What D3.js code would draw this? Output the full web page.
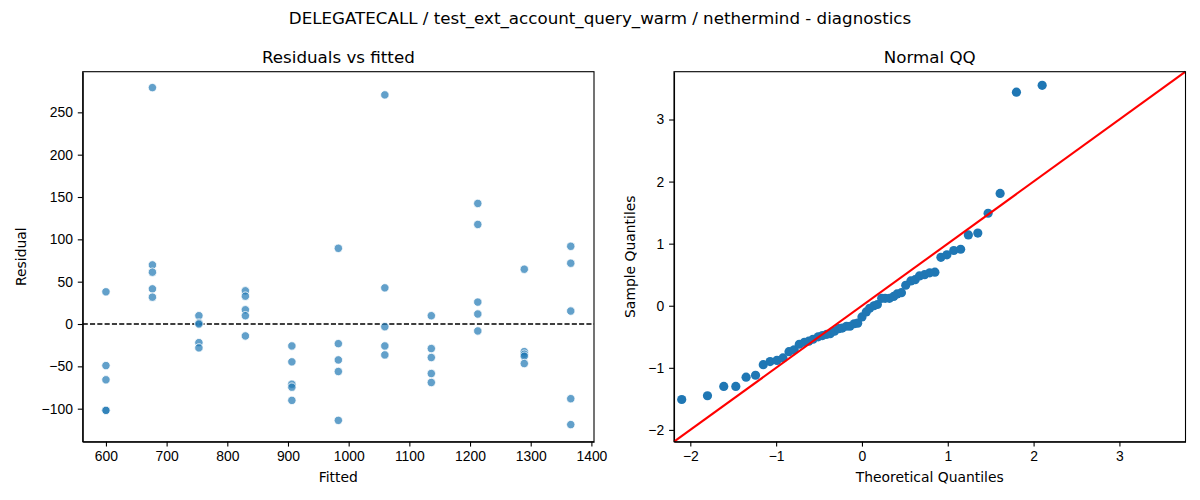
<!DOCTYPE html>
<html>
<head>
<meta charset="utf-8">
<script src="https://cdn.jsdelivr.net/npm/d3@7"></script>
<style>
  body { margin: 0; background: #fff; }
  svg { font-family: "DejaVu Sans", sans-serif; }
  .tick text { font-size: 13.9px; fill: #000; }
  .tick line, .domain { stroke: #000; stroke-width: 1.1px; }
</style>
</head>
<body>
<svg width="1200" height="500"></svg>
<script>
// fitted value of each point (11 levels, 5 runs each)
const fitted = [
  600, 600, 600, 600, 600,
  676.6, 676.6, 676.6, 676.6, 676.6,
  753.2, 753.2, 753.2, 753.2, 753.2,
  829.8, 829.8, 829.8, 829.8, 829.8,
  906.4, 906.4, 906.4, 906.4, 906.4,
  983, 983, 983, 983, 983,
  1059.6, 1059.6, 1059.6, 1059.6, 1059.6,
  1136.2, 1136.2, 1136.2, 1136.2, 1136.2,
  1212.8, 1212.8, 1212.8, 1212.8, 1212.8,
  1289.4, 1289.4, 1289.4, 1289.4, 1289.4,
  1366, 1366, 1366, 1366, 1366
];
// residual of each point
const residual = [
  38, -49.1, -65.9, -102, -102,
  279.2, 69.8, 61.2, 41.5, 31.7,
  9.8, 1.2, 0, -22, -28.2,
  39.2, 32.9, 16.8, 9.8, -14.1,
  -25.9, -44.7, -71.1, -74.6, -90.2,
  89.4, -23.2, -42.4, -56.1, -113.8,
  270.6, 42.7, -3.2, -25.9, -36.5,
  9.8, -29, -39.6, -58.5, -69.1,
  142.4, 117.6, 25.9, 11.8, -8.2,
  64.7, -32.6, -35.7, -38, -46.7,
  91.8, 71.8, 15.3, -88.2, -118.8
];
// Normal QQ points
const theoretical = [
  -2.10, -1.80, -1.61, -1.47, -1.35, -1.24, -1.15, -1.07, -0.99, -0.92,
  -0.85, -0.79, -0.73, -0.67, -0.62, -0.57, -0.51, -0.46, -0.41, -0.37,
  -0.32, -0.27, -0.23, -0.18, -0.14, -0.09, -0.05, 0,
  0.05, 0.09, 0.14, 0.18, 0.23, 0.27, 0.32, 0.37, 0.41, 0.46,
  0.51, 0.57, 0.62, 0.67, 0.73, 0.79, 0.85, 0.92, 0.99, 1.07,
  1.15, 1.24, 1.35, 1.47, 1.61, 1.80, 2.10
];
const sample = [
  -1.51, -1.45, -1.30, -1.30, -1.15, -1.12, -0.95, -0.90, -0.88, -0.84,
  -0.74, -0.71, -0.62, -0.59, -0.57, -0.54, -0.50, -0.48, -0.46, -0.45,
  -0.41, -0.37, -0.36, -0.33, -0.33, -0.29, -0.28, -0.18,
  -0.10, -0.04, 0.00, 0.02, 0.12, 0.12, 0.12, 0.15, 0.19, 0.21,
  0.33, 0.40, 0.42, 0.48, 0.50, 0.53, 0.54, 0.78, 0.82, 0.89,
  0.91, 1.14, 1.17, 1.49, 1.81, 3.44, 3.55
];
const residXTicks = [600, 700, 800, 900, 1000, 1100, 1200, 1300, 1400];
const residYTicks = [-100, -50, 0, 50, 100, 150, 200, 250];
const qqTicks = [-2, -1, 0, 1, 2, 3];

const svg = d3.select("svg");
const plotTop = 71.7, plotBottom = 441.7;
const tickLen = 4.9;
const intFmt = d3.format("d");

// suptitle
svg.append("text")
  .attr("x", 600).attr("y", 24)
  .attr("text-anchor", "middle")
  .style("font-size", "16.7px")
  .text("DELEGATECALL / test_ext_account_query_warm / nethermind - diagnostics");

function frame(x0, x1, title, xlab, ylab, ylabX) {
  const g = svg.append("g");
  g.append("text")
    .attr("x", (x0 + x1) / 2).attr("y", plotTop - 9)
    .attr("text-anchor", "middle")
    .style("font-size", "16.7px")
    .text(title);
  g.append("text")
    .attr("x", (x0 + x1) / 2).attr("y", 482)
    .attr("text-anchor", "middle")
    .style("font-size", "13.9px")
    .text(xlab);
  g.append("text")
    .attr("transform", `translate(${ylabX},${(plotTop + plotBottom) / 2}) rotate(-90)`)
    .attr("text-anchor", "middle")
    .style("font-size", "13.9px")
    .text(ylab);
  return g;
}

// ---- Residuals vs fitted ----
const L0 = 82.7, L1 = 594;
const xRes = d3.scaleLinear().domain([561.7, 1404.3]).range([L0, L1]);
const yRes = d3.scaleLinear().domain([-139, 298]).range([plotBottom, plotTop]);

const left = frame(L0, L1, "Residuals vs fitted", "Fitted", "Residual", 26);

left.append("g")
  .attr("transform", `translate(0,${plotBottom})`)
  .call(d3.axisBottom(xRes).tickValues(residXTicks).tickFormat(intFmt)
    .tickSize(tickLen).tickPadding(4.9).tickSizeOuter(0));
left.append("g")
  .attr("transform", `translate(${L0},0)`)
  .call(d3.axisLeft(yRes).tickValues(residYTicks).tickFormat(intFmt)
    .tickSize(tickLen).tickPadding(4.9).tickSizeOuter(0));

left.append("line")
  .attr("x1", L0).attr("x2", L1)
  .attr("y1", yRes(0)).attr("y2", yRes(0))
  .attr("stroke", "#000").attr("stroke-width", 1.3)
  .attr("stroke-dasharray", "5.1,2.2");

left.append("g")
  .selectAll("circle")
  .data(fitted)
  .enter()
  .append("circle")
  .attr("cx", d => xRes(d))
  .attr("cy", (d, i) => yRes(residual[i]))
  .attr("r", 4.2)
  .attr("fill", "#1f77b4")
  .attr("fill-opacity", 0.7)
  .attr("stroke", "#fff")
  .attr("stroke-width", 0.8);

left.append("rect")
  .attr("x", L0).attr("y", plotTop)
  .attr("width", L1 - L0).attr("height", plotBottom - plotTop)
  .attr("fill", "none").attr("stroke", "#000").attr("stroke-width", 1.1);

// ---- Normal QQ ----
const R0 = 674, R1 = 1185.5;
const lim = [-2.19, 3.77];
const xQQ = d3.scaleLinear().domain(lim).range([R0, R1]);
const yQQ = d3.scaleLinear().domain(lim).range([plotBottom, plotTop]);

const right = frame(R0, R1, "Normal QQ", "Theoretical Quantiles", "Sample Quantiles", 635);

right.append("g")
  .attr("transform", `translate(0,${plotBottom})`)
  .call(d3.axisBottom(xQQ).tickValues(qqTicks).tickFormat(intFmt)
    .tickSize(tickLen).tickPadding(4.9).tickSizeOuter(0));
right.append("g")
  .attr("transform", `translate(${R0},0)`)
  .call(d3.axisLeft(yQQ).tickValues(qqTicks).tickFormat(intFmt)
    .tickSize(tickLen).tickPadding(4.9).tickSizeOuter(0));

right.append("g")
  .selectAll("circle")
  .data(theoretical)
  .enter()
  .append("circle")
  .attr("cx", d => xQQ(d))
  .attr("cy", (d, i) => yQQ(sample[i]))
  .attr("r", 4.6)
  .attr("fill", "#1f77b4");

right.append("line")
  .attr("x1", xQQ(lim[0])).attr("y1", yQQ(lim[0]))
  .attr("x2", xQQ(lim[1])).attr("y2", yQQ(lim[1]))
  .attr("stroke", "red").attr("stroke-width", 2.1);

right.append("rect")
  .attr("x", R0).attr("y", plotTop)
  .attr("width", R1 - R0).attr("height", plotBottom - plotTop)
  .attr("fill", "none").attr("stroke", "#000").attr("stroke-width", 1.1);
</script>
</body>
</html>
